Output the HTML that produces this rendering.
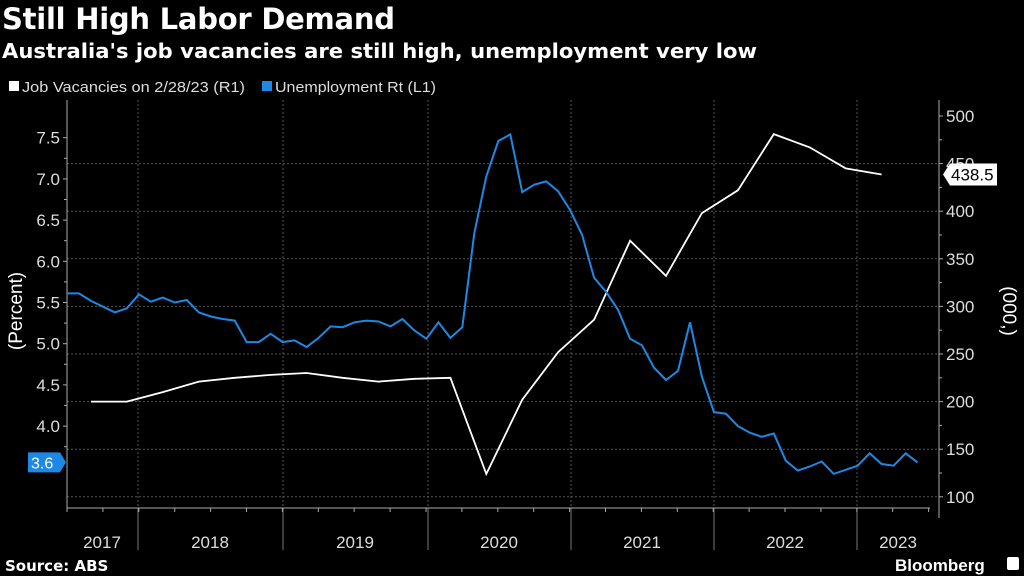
<!DOCTYPE html>
<html><head><meta charset="utf-8"><style>
body{margin:0;background:#000;width:1024px;height:576px;overflow:hidden;font-family:"Liberation Sans","DejaVu Sans",sans-serif;color:#fff}
svg{position:absolute;left:0;top:0}
</style></head><body>
<svg width="1024" height="576" id="c">
<text x="2" y="29" font-size="29" font-weight="bold" fill="#fff" font-family="DejaVu Sans, sans-serif" textLength="393">Still High Labor Demand</text>
<text x="2" y="58" font-size="20.5" font-weight="bold" fill="#fff" font-family="DejaVu Sans, sans-serif" textLength="755" lengthAdjust="spacingAndGlyphs">Australia's job vacancies are still high, unemployment very low</text>
<g>
<rect x="9" y="81" width="10" height="10" fill="#fff"/>
<text x="22" y="92" font-size="14.5" fill="#ddd" textLength="223" lengthAdjust="spacingAndGlyphs">Job Vacancies on 2/28/23 (R1)</text>
<rect x="262" y="81" width="10" height="10" fill="#1e88e5"/>
<text x="275" y="92" font-size="14.5" fill="#ddd" textLength="161" lengthAdjust="spacingAndGlyphs">Unemployment Rt (L1)</text>
</g>
<g id="grid"></g><g id="axes"></g><g id="series"></g>
<text transform="translate(22,311) rotate(-90)" text-anchor="middle" font-size="19" fill="#fff">(Percent)</text>
<text transform="translate(1003,311) rotate(90)" text-anchor="middle" font-size="19" fill="#fff">(000,)</text>
<text x="5" y="571" font-size="15" font-weight="bold" fill="#fff" font-family="DejaVu Sans, sans-serif">Source: ABS</text>
<text x="895" y="571" font-size="17" font-weight="bold" fill="#fff">Bloomberg</text>
<rect x="1007" y="557" width="12" height="13" rx="2" fill="#fff"/>
</svg>
<script>
const unemp=[5.61,5.61,5.52,5.45,5.38,5.43,5.6,5.51,5.56,5.50,5.53,5.38,5.33,5.30,5.28,5.02,5.02,5.12,5.02,5.04,4.96,5.07,5.21,5.20,5.26,5.28,5.27,5.21,5.30,5.16,5.06,5.26,5.07,5.20,6.34,7.03,7.46,7.54,6.84,6.93,6.97,6.85,6.62,6.32,5.80,5.63,5.41,5.06,4.98,4.71,4.56,4.67,5.26,4.60,4.17,4.15,4.00,3.92,3.87,3.91,3.58,3.46,3.51,3.57,3.42,3.47,3.52,3.67,3.54,3.52,3.67,3.56];
const vac=[200,200,210,221,225,228,230,225,221,224,225,124,202,252,286,369,332,398,422,481,467,445,438.5];
const leftTicks=[4.0,4.5,5.0,5.5,6.0,6.5,7.0,7.5];
const rightTicks=[100,150,200,250,300,350,400,450,500];
const years=["2017","2018","2019","2020","2021","2022","2023"];
const NS="http://www.w3.org/2000/svg";
const X0=67,X1=939,Y0=508;
const xM=i=>67+i*11.98;
const yL=v=>137.7+(7.5-v)*82.4;
const yR=v=>116+(500-v)*0.952;
function mk(p,t,a){const e=document.createElementNS(NS,t);for(const k in a)e.setAttribute(k,a[k]);document.getElementById(p).appendChild(e);return e;}
rightTicks.forEach(v=>{if(v<500){const l=mk('grid','line',{x1:X0,x2:X1,y1:yR(v),y2:yR(v),stroke:'#555','stroke-dasharray':'2,2'});

}});
const yb=[138,283,428,571,714,857];
yb.forEach((x,i)=>{const l=mk('grid','line',{x1:x,x2:x,y1:100,y2:Y0,stroke:'#555','stroke-dasharray':'2,2'});


const s=mk('axes','line',{x1:x,x2:x,y1:Y0,y2:550,stroke:'#777'});

});
let ax=mk('axes','path',{d:`M${X0},100V${Y0}H${X1-9}`,stroke:'#aaa',fill:'none'});


let ar=mk('axes','line',{x1:X1,x2:X1,y1:100,y2:Y0+10,stroke:'#aaa'});


for(let x=X0;x<X1-5;x+=35.9){const t=mk('axes','line',{x1:x,x2:x,y1:Y0,y2:Y0+4,stroke:'#aaa'});}
leftTicks.forEach(v=>{const t=mk('axes','line',{x1:X0-4,x2:X0,y1:yL(v),y2:yL(v),stroke:'#aaa'});
const m=mk('axes','line',{x1:X0-3,x2:X0,y1:yL(v-0.25),y2:yL(v-0.25),stroke:'#aaa'});
const tx=mk('axes','text',{x:X0-7,y:yL(v)+6,'text-anchor':'end','font-size':17,fill:'#ddd'});tx.textContent=v.toFixed(1);

});
rightTicks.forEach(v=>{const t=mk('axes','line',{x1:X1,x2:X1+4,y1:yR(v),y2:yR(v),stroke:'#aaa'});
if(v<500){const m=mk('axes','line',{x1:X1,x2:X1+3,y1:yR(v+25),y2:yR(v+25),stroke:'#aaa'});}
const tx=mk('axes','text',{x:X1+7,y:yR(v)+6,'font-size':17,fill:'#ddd'});tx.textContent=v;

});
const yc=[102,210,355,499,642,785,898];
years.forEach((y,i)=>{const t=mk('axes','text',{x:yc[i],y:548,'text-anchor':'middle','font-size':17,fill:'#ddd'});t.textContent=y;

});
const pv=vac.map((v,i)=>`${xM(2+3*i).toFixed(1)},${yR(v).toFixed(1)}`).join(' ');
const lv=mk('series','polyline',{points:pv,fill:'none',stroke:'#fff','stroke-width':1.8});


const pu=unemp.map((v,i)=>`${xM(i).toFixed(1)},${yL(v).toFixed(1)}`).join(' ');
const lu=mk('series','polyline',{points:pu,fill:'none',stroke:'#1e88e5','stroke-width':2});


const lastU=unemp[unemp.length-1],yu=yL(lastU);
const bu=mk('series','path',{d:`M28,${yu-10}H60L66,${yu}L60,${yu+10}H28Z`,fill:'#1e88e5'});


const tu=mk('series','text',{x:31,y:yu+6,'font-size':16,fill:'#fff'});tu.textContent=lastU.toFixed(1);


const lastV=vac[vac.length-1],yv=yR(lastV);
const bv=mk('series','path',{d:`M943,${yv}L950,${yv-11}H997V${yv+11}H950Z`,fill:'#fff'});


const tv=mk('series','text',{x:951,y:yv+6,'font-size':17,fill:'#000'});tv.textContent=lastV;


</script>
</body></html>
